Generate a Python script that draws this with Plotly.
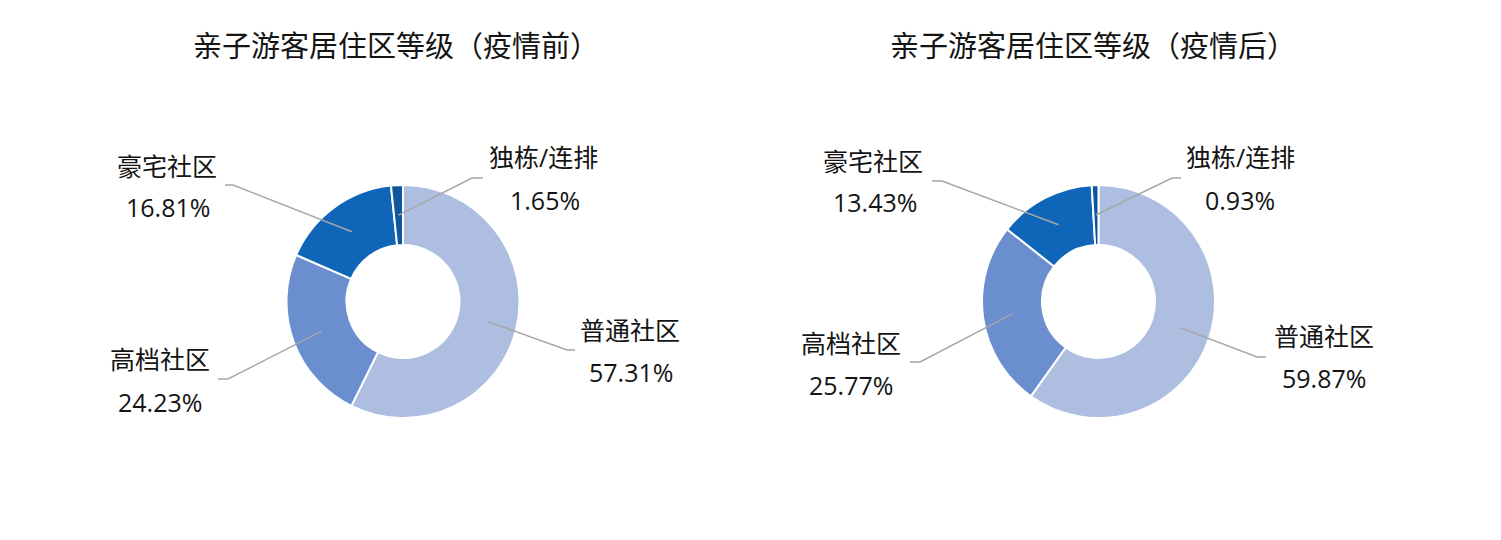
import math
import plotly.graph_objects as go

# ---------------- data ----------------
categories = ["普通社区", "高档社区", "豪宅社区", "独栋/连排"]
before_values = [57.31, 24.23, 16.81, 1.65]
after_values = [59.87, 25.77, 13.43, 0.93]
titles = ["亲子游客居住区等级（疫情前）", "亲子游客居住区等级（疫情后）"]

# ---------------- style / layout ----------------
colors = ["#AEBEE1", "#6A8ECE", "#0F66B8", "#0D57A1"]
W, H = 1501, 540
FONT = "Open Sans, Noto Sans CJK SC, sans-serif"
TEXT_COLOR = "#141414"
LINE_COLOR = "#A6A6A6"
R_OUT = 116.5
R_IN = 56.5

# per-chart placement (pixels): center, title center, and for every category
# (elbow point, line end, name-label center, percent-label center)
charts = [
    dict(values=before_values, title=titles[0], cx=403, cy=301.5, tx=396, ty=45,
         place=[((567, 350), (575, 350), (630, 330), (630.5, 372)),
                ((228, 379), (218, 379), (160, 359), (160, 402)),
                ((233, 185), (225, 185), (167, 166), (168, 207)),
                ((472, 178), (483, 178), (543, 157), (545, 200))]),
    dict(values=after_values, title=titles[1], cx=1098.5, cy=301.5, tx=1093, ty=45,
         place=[((1257, 357), (1266, 357), (1324, 336), (1324, 378)),
                ((920, 362), (910, 362), (851, 343), (851, 385)),
                ((942, 181), (932, 181), (873, 161), (875, 202)),
                ((1172, 178), (1181, 178), (1240, 157), (1240, 200))]),
]


def px(x):
    return x / W


def py(y):
    return 1 - y / H


fig = go.Figure()
annotations = []
shapes = []

for ch in charts:
    cx, cy = ch["cx"], ch["cy"]
    fig.add_trace(go.Pie(
        labels=categories,
        values=ch["values"],
        sort=False,
        direction="clockwise",
        rotation=0,
        hole=R_IN / R_OUT,
        textinfo="none",
        hoverinfo="label+percent",
        marker=dict(colors=colors, line=dict(color="white", width=2)),
        domain=dict(x=[px(cx - R_OUT), px(cx + R_OUT)],
                    y=[py(cy + R_OUT), py(cy - R_OUT)]),
        showlegend=False,
    ))
    annotations.append(dict(
        text=ch["title"], x=px(ch["tx"]), y=py(ch["ty"]), xref="paper", yref="paper",
        xanchor="center", yanchor="middle", showarrow=False,
        font=dict(family=FONT, size=29, color=TEXT_COLOR)))

    total = sum(ch["values"])
    cum = 0.0
    rm = (R_IN + R_OUT) / 2
    for cat, val, (elbow, end, name_pos, pct_pos) in zip(categories, ch["values"], ch["place"]):
        mid = (cum + val / 2) / total * 2 * math.pi
        cum += val
        sx = cx + rm * math.sin(mid)
        sy = cy - rm * math.cos(mid)
        path = (f"M {px(sx)},{py(sy)} L {px(elbow[0])},{py(elbow[1])} "
                f"L {px(end[0])},{py(end[1])}")
        shapes.append(dict(type="path", path=path, xref="paper", yref="paper",
                           line=dict(color=LINE_COLOR, width=1.5)))
        annotations.append(dict(
            text=cat, x=px(name_pos[0]), y=py(name_pos[1]), xref="paper", yref="paper",
            xanchor="center", yanchor="middle", showarrow=False,
            font=dict(family=FONT, size=25, color=TEXT_COLOR)))
        annotations.append(dict(
            text=f"{val:.2f}%", x=px(pct_pos[0]), y=py(pct_pos[1]), xref="paper", yref="paper",
            xanchor="center", yanchor="middle", showarrow=False,
            font=dict(family=FONT, size=25, color=TEXT_COLOR)))

fig.update_layout(
    width=W, height=H,
    margin=dict(l=0, r=0, t=0, b=0, pad=0),
    paper_bgcolor="white", plot_bgcolor="white",
    annotations=annotations, shapes=shapes,
    font=dict(family=FONT),
)

fig.write_html("out.html", config={"displayModeBar": False},
               post_script="document.body.style.margin='0';")
